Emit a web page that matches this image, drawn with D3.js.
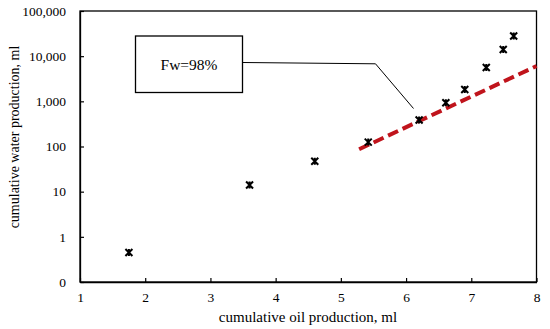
<!DOCTYPE html>
<html><head><meta charset="utf-8">
<script src="https://cdn.jsdelivr.net/npm/d3@7"></script>
<style>
body{margin:0;background:#fff;}
text{font-family:"Liberation Serif","Times New Roman",serif;fill:#000;}
</style></head>
<body>
<svg id="chart" width="550" height="329"></svg>
<script>
const oilProduction = [1.75, 3.6, 4.6, 5.42, 6.2, 6.61, 6.9, 7.23, 7.49, 7.65];
const waterProduction = [0.45, 14, 47, 125, 385, 930, 1830, 5600, 14000, 28000];
const trendX = [5.28, 8];
const trendY = [87, 6050];
const xTicks = [1, 2, 3, 4, 5, 6, 7, 8];
const yTicks = [0.1, 1, 10, 100, 1000, 10000, 100000];
const yTickLabels = ["0", "1", "10", "100", "1,000", "10,000", "100,000"];
const annotationText = "Fw=98%";
const xTitle = "cumulative oil production, ml";
const yTitle = "cumulative water production, ml";

const svg = d3.select("#chart");
const L = 80, R = 536.5, T = 11, B = 282;
const x = d3.scaleLinear().domain([1, 8]).range([L, R]);
const y = d3.scaleLog().domain([0.1, 100000]).range([B, T]);

// frame
svg.append("rect").attr("x", L).attr("y", T).attr("width", R - L).attr("height", B - T)
  .attr("fill", "none").attr("stroke", "#000").attr("stroke-width", 1.3);

const xAxis = svg.append("g").attr("transform", `translate(0,${B})`)
  .call(d3.axisBottom(x).tickValues(xTicks).tickFormat(d3.format("d")).tickSizeInner(-4).tickSizeOuter(0).tickPadding(10));
const yAxis = svg.append("g").attr("transform", `translate(${L},0)`)
  .call(d3.axisLeft(y).tickValues(yTicks).tickFormat((d, i) => yTickLabels[i]).tickSizeInner(-4).tickSizeOuter(0).tickPadding(14));
[xAxis, yAxis].forEach(g => {
  g.select(".domain").attr("stroke", "#000").attr("stroke-width", 1.3);
  g.selectAll(".tick line").attr("stroke", "#000").attr("stroke-width", 1.2);
  g.selectAll("text").attr("font-family", "Liberation Serif").attr("font-size", 13.5).attr("fill", "#000");
});

// trend line
svg.append("line")
  .attr("x1", x(trendX[0])).attr("y1", y(trendY[0]))
  .attr("x2", x(trendX[1])).attr("y2", y(trendY[1]))
  .attr("stroke", "#c0141c").attr("stroke-width", 4).attr("stroke-dasharray", "11,5");

// markers (star: X with vertical stroke)
const s = 3.5;
const m = svg.append("g");
oilProduction.forEach((d, i) => {
  const cx = x(d), cy = y(waterProduction[i]);
  m.append("path")
    .attr("d", `M${cx - s},${cy - s}L${cx + s},${cy + s}M${cx - s},${cy + s}L${cx + s},${cy - s}M${cx},${cy - s}L${cx},${cy + s}`)
    .attr("stroke", "#000").attr("stroke-width", 2).attr("fill", "none");
});

// annotation callout
svg.append("rect").attr("x", 135.5).attr("y", 36).attr("width", 107).attr("height", 56.5)
  .attr("fill", "#fff").attr("stroke", "#000").attr("stroke-width", 1.3);
svg.append("text").attr("x", 189).attr("y", 70).attr("text-anchor", "middle")
  .attr("font-size", 15.5).text(annotationText);
svg.append("polyline").attr("points", "242.5,62.5 375.5,63.8 413.5,108.5")
  .attr("fill", "none").attr("stroke", "#000").attr("stroke-width", 1);

// titles
svg.append("text").attr("x", 308).attr("y", 322).attr("text-anchor", "middle")
  .attr("font-size", 15).text(xTitle);
svg.append("text").attr("transform", `translate(19,137) rotate(-90)`)
  .attr("text-anchor", "middle").attr("font-size", 14).text(yTitle);
</script>
</body></html>
